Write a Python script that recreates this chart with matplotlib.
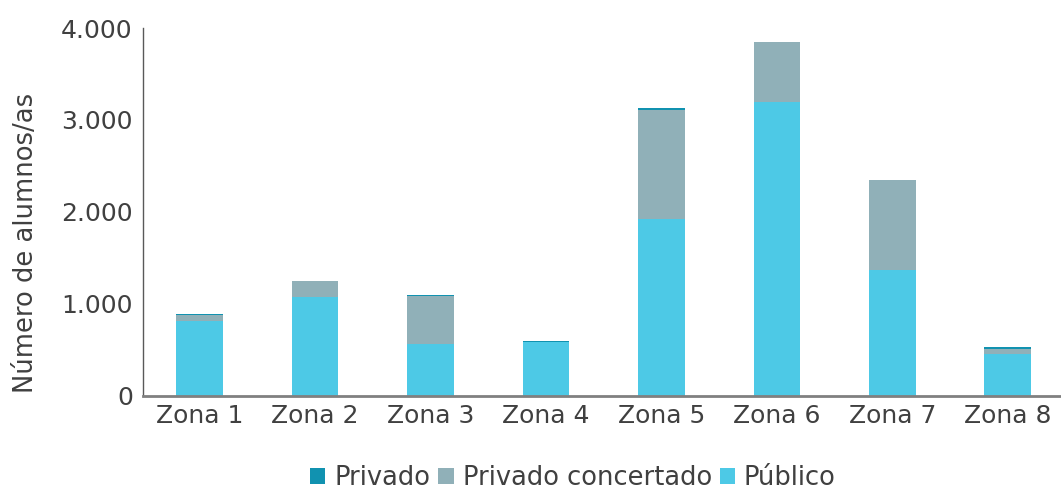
import matplotlib
matplotlib.use('Agg')
import matplotlib.pyplot as plt
import numpy as np
from matplotlib.ticker import FuncFormatter

zonas = ['Zona 1', 'Zona 2', 'Zona 3', 'Zona 4', 'Zona 5', 'Zona 6', 'Zona 7', 'Zona 8']
publico = [810, 1070, 565, 578, 1920, 3195, 1370, 455]
concertado = [70, 175, 520, 8, 1185, 650, 975, 50]
privado = [10, 0, 8, 8, 22, 0, 0, 22]

c_publico = '#4dc9e6'
c_concertado = '#90b0b8'
c_privado = '#1192b0'
text_color = '#404040'


def main():
    fig = plt.figure(figsize=(10.61, 4.90), dpi=100)
    ax = fig.add_axes([142.5 / 1061, 94.5 / 490, (1061 - 142.5) / 1061, 367.5 / 490])

    x = np.arange(len(zonas))
    w = 0.405
    pub = np.array(publico)
    con = np.array(concertado)
    pri = np.array(privado)
    ax.bar(x, pub, w, color=c_publico, label='Público')
    ax.bar(x, con, w, bottom=pub, color=c_concertado, label='Privado concertado')
    ax.bar(x, pri, w, bottom=pub + con, color=c_privado, label='Privado')

    ax.set_xlim(-0.493, 7.46)
    ax.set_ylim(0, 4000)
    ax.set_yticks([0, 1000, 2000, 3000, 4000])
    ax.yaxis.set_major_formatter(FuncFormatter(lambda v, p: '{:,.0f}'.format(v).replace(',', '.')))
    ax.set_xticks(x)
    ax.set_xticklabels(zonas)
    ax.tick_params(axis='both', length=0, labelsize=18, colors=text_color)
    ax.tick_params(axis='y', pad=7)
    ax.tick_params(axis='x', pad=6)

    for s in ['top', 'right']:
        ax.spines[s].set_visible(False)
    ax.spines['left'].set_color('#595959')
    ax.spines['left'].set_linewidth(1.0)
    ax.spines['bottom'].set_color('#808080')
    ax.spines['bottom'].set_linewidth(2.0)

    ax.set_ylabel('Número de alumnos/as', fontsize=18.6, color=text_color)
    ax.yaxis.set_label_coords(-0.1127, 0.415)

    handles, labels = ax.get_legend_handles_labels()
    fig.legend(handles[::-1], labels[::-1], loc='center', bbox_to_anchor=(0.54, 0.024),
               ncol=3, frameon=False, fontsize=18.5, labelcolor=text_color,
               handlelength=0.6, handleheight=0.6, handletextpad=0.35,
               columnspacing=0.3, borderaxespad=0)

    plt.savefig('out.png', dpi=100)


if __name__ == '__main__':
    main()
